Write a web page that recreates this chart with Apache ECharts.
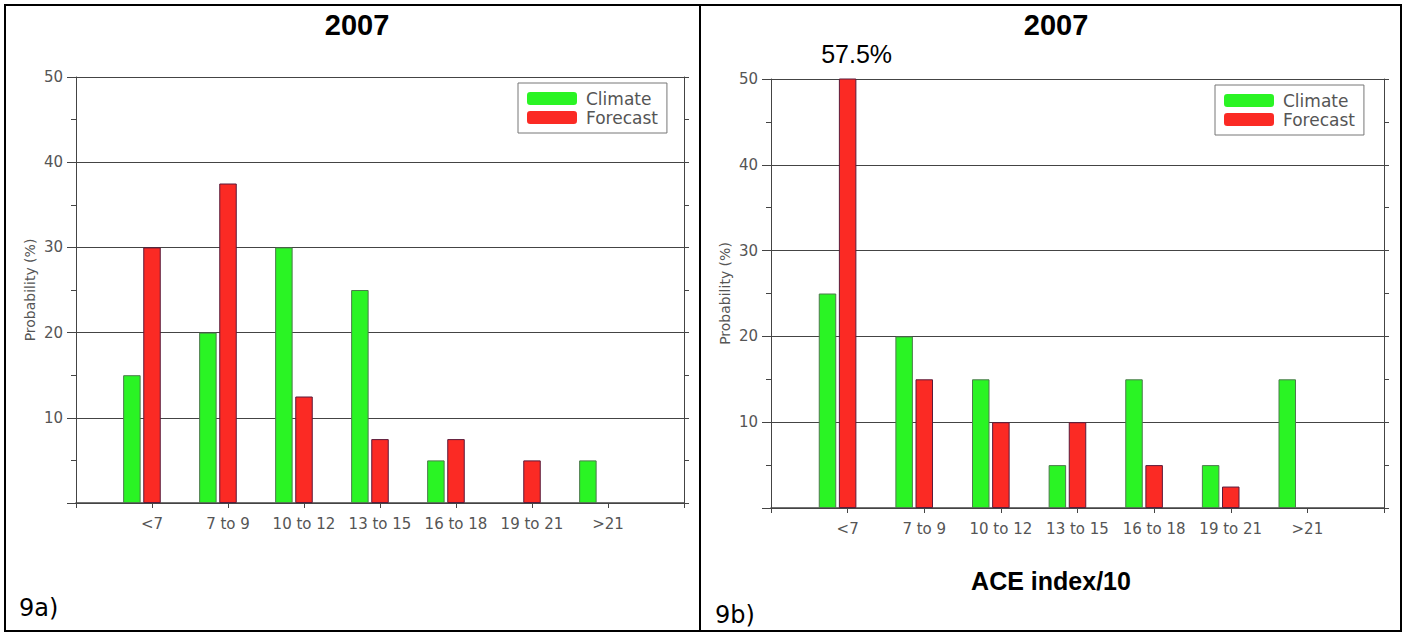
<!DOCTYPE html>
<html>
<head>
<meta charset="utf-8">
<script src="https://cdn.jsdelivr.net/npm/echarts@6/dist/echarts.min.js"></script>
<style>
html,body{margin:0;padding:0;background:#fff;}
#chart{width:1407px;height:634px;}
</style>
</head>
<body>
<div id="chart"></div>
<script>
// ---- data ----
const categories = ['<7', '7 to 9', '10 to 12', '13 to 15', '16 to 18', '19 to 21', '>21'];
const climateA  = [15, 20, 30, 25, 5, 0, 5];
const forecastA = [30, 37.5, 12.5, 7.5, 7.5, 5, 0];
const climateB  = [25, 20, 15, 5, 15, 5, 15];
const forecastB = [57.5, 15, 10, 10, 5, 2.5, 0];
const yMin = 0, yMax = 50, yStep = 10;
const titleText = '2007';
const xNameB = 'ACE index/10';
const yName = 'Probability (%)';
const panelLabels = ['9a)', '9b)'];
const seriesNames = ['Climate', 'Forecast'];

// ---- styles ----
const AX = '#444';
const TXT = '#555';
const GREEN = '#2af424';
const RED = '#fb2a24';
const FONT = 'DejaVu Sans';
const SERIF = 'Liberation Sans';

// padded category list: an empty slot at each end so the axis spans 8 steps
const xCats = [''].concat(categories, ['']);
const pad = arr => [null].concat(arr, [null]);

function xAxis(grid, extra) {
  return Object.assign({
    type: 'category', gridIndex: grid, data: xCats, boundaryGap: false,
    axisLine: {lineStyle: {color: AX, width: 1.5}},
    axisTick: {show: true, interval: 0, length: 5, lineStyle: {color: AX}},
    axisLabel: {interval: 0, fontFamily: FONT, fontSize: 15, color: TXT, margin: 13},
    splitLine: {show: false}
  }, extra || {});
}
function yLeft(grid) {
  return {
    type: 'value', gridIndex: grid, position: 'left', min: yMin, max: yMax, interval: yStep,
    name: yName, nameLocation: 'middle', nameGap: 39,
    nameTextStyle: {fontFamily: FONT, fontSize: 14, color: TXT},
    axisLine: {show: true, lineStyle: {color: AX}},
    axisTick: {show: true, length: 9, lineStyle: {color: AX}},
    minorTick: {show: true, splitNumber: 2, length: 5, lineStyle: {color: AX}},
    axisLabel: {fontFamily: FONT, fontSize: 15, color: TXT, margin: 13, showMinLabel: false},
    splitLine: {show: true, lineStyle: {color: AX, width: 1}}
  };
}
function yRight(grid) {
  return {
    type: 'value', gridIndex: grid, position: 'right', min: yMin, max: yMax, interval: yStep,
    axisLine: {show: true, lineStyle: {color: AX}},
    axisTick: {show: true, length: 5, lineStyle: {color: AX}},
    minorTick: {show: true, splitNumber: 2, length: 5, lineStyle: {color: AX}},
    axisLabel: {show: false},
    splitLine: {show: false}
  };
}
function bars(name, values, xi, yi, color, border) {
  return {
    type: 'bar', name: name, xAxisIndex: xi, yAxisIndex: yi,
    barWidth: 17.5, barGap: '15%',
    itemStyle: {color: color, borderColor: border, borderWidth: 1},
    data: pad(values.map(v => {
      if (v > yMax) {
        return {
          value: v,
          label: {show: true, position: 'top', distance: 12, offset: [9, 0],
                  formatter: '{c}%', fontFamily: SERIF, fontSize: 25, color: '#000'}
        };
      }
      if (v === 0) return {value: v, itemStyle: {borderWidth: 0}};
      return v;
    }))
  };
}
function spacer(xi, yi) {
  return {type: 'bar', name: 'spacer' + xi, xAxisIndex: xi, yAxisIndex: yi,
          barWidth: 17.5, barGap: '15%', data: [], silent: true};
}
function legend(left, top) {
  return {
    data: seriesNames, orient: 'vertical', left: left, top: top,
    itemWidth: 50, itemHeight: 13, itemGap: 2,
    padding: [7, 9, 7, 9],
    borderColor: '#777', borderWidth: 1, backgroundColor: '#fff',
    itemStyle: {borderWidth: 0},
    textStyle: {fontFamily: FONT, fontSize: 17, color: TXT, lineHeight: 17, padding: [0, 0, 0, 4]},
    selectedMode: false
  };
}

const chart = echarts.init(document.getElementById('chart'), null, {renderer: 'svg'});
chart.setOption({
  animation: false,
  backgroundColor: '#fff',
  title: [
    {text: titleText, left: 352, top: 5, textAlign: 'center',
     textStyle: {fontFamily: SERIF, fontWeight: 'bold', fontSize: 29, color: '#000'}},
    {text: titleText, left: 1051, top: 5, textAlign: 'center',
     textStyle: {fontFamily: SERIF, fontWeight: 'bold', fontSize: 29, color: '#000'}}
  ],
  legend: [legend(518, 83), legend(1215, 85)],
  grid: [
    {left: 76, top: 77, width: 608, height: 426},
    {left: 771, top: 79, width: 613, height: 429}
  ],
  xAxis: [
    xAxis(0),
    xAxis(1, {name: xNameB, nameLocation: 'middle', nameGap: 60,
              nameTextStyle: {fontFamily: SERIF, fontWeight: 'bold', fontSize: 25, color: '#000',
                              padding: [0, 53, 0, 0]}})
  ],
  yAxis: [yLeft(0), yRight(0), yLeft(1), yRight(1)],
  series: [
    bars(seriesNames[0], climateA, 0, 0, GREEN, '#4d7a4d'),
    bars(seriesNames[1], forecastA, 0, 0, RED, '#5a1a3a'),
    spacer(0, 0),
    bars(seriesNames[0], climateB, 1, 2, GREEN, '#4d7a4d'),
    bars(seriesNames[1], forecastB, 1, 2, RED, '#5a1a3a'),
    spacer(1, 2)
  ],
  graphic: [
    {type: 'rect', shape: {x: 5, y: 5, width: 1396, height: 626},
     style: {fill: 'none', stroke: '#000', lineWidth: 2}, silent: true, z: 100},
    {type: 'line', shape: {x1: 700, y1: 5, x2: 700, y2: 631},
     style: {stroke: '#000', lineWidth: 2}, silent: true, z: 100},
    {type: 'text', x: 19, y: 608,
     style: {text: panelLabels[0], fontFamily: FONT, fontSize: 24, fill: '#000', verticalAlign: 'middle'}},
    {type: 'text', x: 715, y: 615,
     style: {text: panelLabels[1], fontFamily: FONT, fontSize: 24, fill: '#000', verticalAlign: 'middle'}}
  ]
});
</script>
</body>
</html>
